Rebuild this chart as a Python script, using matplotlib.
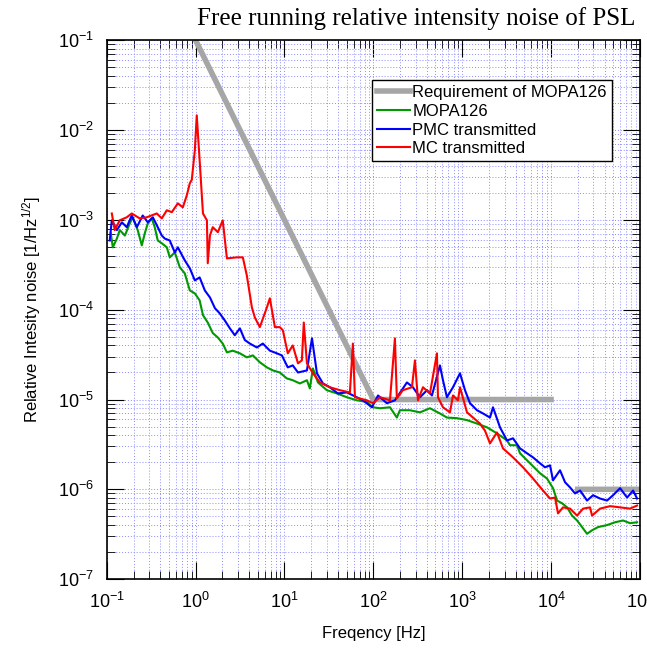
import numpy as np
import matplotlib
matplotlib.use('Agg')
import matplotlib.pyplot as plt

plt.rcParams['font.family'] = ['Liberation Sans', 'DejaVu Sans']
plt.rcParams['mathtext.fontset'] = 'custom'
plt.rcParams['mathtext.rm'] = 'Liberation Sans'
plt.rcParams['mathtext.it'] = 'Liberation Sans:italic'

# Requirement of MOPA126 (NaN splits the two flat parts)
req_f = [1.0, 100.0, 1e4, np.nan, 2e4, 1e5]
req_v = [1e-1, 1e-5, 1e-5, np.nan, 1e-6, 1e-6]

# MOPA126
mopa_f = [0.111, 0.117, 0.130, 0.140, 0.160, 0.182, 0.196, 0.223, 0.248, 0.268, 0.290,
          0.321, 0.347, 0.375, 0.416, 0.474, 0.512, 0.583, 0.664, 0.755, 0.861, 0.98,
          1.11, 1.21, 1.37, 1.56, 1.78, 2.02, 2.25, 2.62, 3.15, 3.77, 4.41, 5.28, 6.34,
          7.40, 8.87, 10.6, 12.4, 14.9, 17.9, 19.3, 20.9, 23.8, 30.0, 38.9, 50.5, 65.3,
          84.7, 98.9, 119, 154, 184, 199, 258, 335, 434, 562, 674, 874, 1133, 1468,
          1903, 2465, 3196, 3453, 4140, 4476, 5800, 7516, 9010, 10530, 11690, 13300,
          15150, 17250, 19640, 22360, 25430, 28950, 33810, 42730, 52570, 64710, 77580,
          93020]
mopa_v = [7.1e-4, 4.95e-4, 6.2e-4, 7.7e-4, 6.7e-4, 9.2e-4, 1.07e-3, 7.7e-4, 5.2e-4, 7.1e-4,
          9.2e-4, 1.04e-3, 8.3e-4, 5.9e-4, 5.5e-4, 4.95e-4, 3.83e-4, 4.35e-4, 2.97e-4,
          2.54e-4, 1.64e-4, 1.52e-4, 1.27e-4, 8.7e-5, 7.2e-5, 5.5e-5, 4.9e-5, 4.2e-5,
          3.35e-5, 3.5e-5, 3.27e-5, 2.95e-5, 3.1e-5, 2.6e-5, 2.28e-5, 2.11e-5, 2.0e-5,
          1.72e-5, 1.64e-5, 1.51e-5, 1.64e-5, 1.33e-5, 2.22e-5, 1.55e-5, 1.27e-5, 1.17e-5,
          1.06e-5, 9.8e-6, 9.4e-6, 8.2e-6, 8.0e-6, 8.2e-6, 6.3e-6, 7.6e-6, 7.6e-6, 7.2e-6,
          8.0e-6, 7.0e-6, 6.3e-6, 6.2e-6, 5.9e-6, 5.4e-6, 4.9e-6, 4.2e-6, 3.5e-6, 3.1e-6,
          3.1e-6, 2.52e-6, 1.95e-6, 1.51e-6, 1.32e-6, 1.03e-6, 7.5e-7, 7.0e-7, 6.3e-7,
          5.1e-7, 4.5e-7, 3.8e-7, 3.2e-7, 3.5e-7, 3.8e-7, 4.0e-7, 4.3e-7, 4.5e-7, 4.2e-7,
          4.3e-7]

# PMC transmitted
pmc_f = [0.108, 0.114, 0.130, 0.148, 0.168, 0.191, 0.218, 0.254, 0.290, 0.330, 0.375,
         0.416, 0.450, 0.512, 0.583, 0.631, 0.755, 0.861, 0.98, 1.11, 1.27, 1.45, 1.65,
         1.87, 2.13, 2.43, 2.76, 3.15, 3.58, 4.08, 4.89, 5.71, 6.85, 8.21, 9.35, 10.9,
         12.4, 14.2, 17.9, 20.4, 23.2, 27.1, 32.4, 39.9, 50.5, 76.4, 96.5, 113, 142, 175,
         239, 279, 335, 402, 457, 562, 608, 674, 788, 945, 1076, 1225, 1468, 1714, 2056,
         2222, 2665, 3196, 3733, 4476, 5366, 6269, 7516, 8556, 9743, 10530, 12620, 14380,
         16380, 18640, 21240, 25430, 29700, 35620, 42730, 49890, 59880, 71780, 83830,
         93020]
pmc_v = [5.9e-4, 9.9e-4, 7.7e-4, 9.4e-4, 8.3e-4, 1.12e-3, 8.3e-4, 1.12e-3, 9.4e-4, 1.07e-3,
         8.3e-4, 6.7e-4, 6.2e-4, 5.9e-4, 4.35e-4, 4.95e-4, 3.55e-4, 2.89e-4, 2.12e-4,
         2.29e-4, 1.64e-4, 1.37e-4, 1.04e-4, 9.1e-5, 7.6e-5, 6.2e-5, 5.2e-5, 6.2e-5, 4.6e-5,
         4.2e-5, 3.8e-5, 4.2e-5, 3.5e-5, 3.27e-5, 3.1e-5, 2.28e-5, 2.4e-5, 2.0e-5, 2.11e-5,
         4.8e-5, 1.96e-5, 1.51e-5, 1.37e-5, 1.17e-5, 1.2e-5, 9.8e-6, 8.2e-6, 1.11e-5,
         9.1e-6, 9.8e-6, 1.55e-5, 1.37e-5, 1.06e-5, 1.27e-5, 1.11e-5, 2.4e-5, 1.64e-5,
         1.06e-5, 1.37e-5, 1.96e-5, 1.27e-5, 9.1e-6, 7.6e-6, 7.0e-6, 6.3e-6, 8.2e-6, 4.9e-6,
         3.5e-6, 3.7e-6, 2.86e-6, 2.52e-6, 2.27e-6, 1.95e-6, 1.76e-6, 1.85e-6, 1.26e-6,
         1.63e-6, 1.2e-6, 1.05e-6, 9.0e-7, 9.7e-7, 7.5e-7, 8.6e-7, 7.9e-7, 7.5e-7, 8.6e-7,
         1.03e-6, 8.1e-7, 9.7e-7, 7.9e-7]

# MC transmitted
mc_f = [0.114, 0.123, 0.140, 0.168, 0.191, 0.235, 0.282, 0.366, 0.416, 0.474, 0.540,
        0.631, 0.718, 0.796, 0.861, 0.906, 0.98, 1.03, 1.11, 1.21, 1.34, 1.37, 1.45, 1.56,
        1.78, 2.02, 2.25, 2.91, 3.40, 3.77, 4.30, 4.64, 5.28, 6.34, 6.85, 7.80, 8.87, 9.59,
        10.9, 12.4, 14.2, 15.7, 16.5, 17.9, 20.9, 25.1, 32.4, 42.1, 54.5, 58.9, 62.1, 84.7,
        98.9, 119, 154, 175, 184, 215, 272, 294, 318, 362, 434, 520, 534, 608, 729, 788,
        897, 945, 1133, 1324, 1585, 1806, 2056, 2465, 2879, 3733, 4838, 6269, 8125, 9743,
        11090, 11990, 13650, 16380, 19640, 22940, 27480, 28950, 35620, 46160, 59880, 77580,
        93020]
mc_v = [1.18e-3, 7.7e-4, 9.9e-4, 1.07e-3, 1.18e-3, 1.04e-3, 1.07e-3, 1.18e-3, 1.04e-3,
        1.28e-3, 1.22e-3, 1.53e-3, 1.38e-3, 1.88e-3, 2.56e-3, 2.8e-3, 5.96e-3, 1.46e-2,
        4.6e-3, 1.18e-3, 9.9e-4, 3.29e-4, 6.7e-4, 8.3e-4, 7.3e-4, 9.9e-4, 3.73e-4, 3.83e-4,
        3.83e-4, 2.41e-4, 1.06e-4, 8.2e-5, 6.4e-5, 1.06e-4, 1.34e-4, 6.4e-5, 6.4e-5, 5.9e-5,
        3.27e-5, 4.0e-5, 2.53e-5, 2.73e-5, 7.2e-5, 2.53e-5, 1.96e-5, 1.55e-5, 1.37e-5,
        1.27e-5, 1.2e-5, 4.2e-5, 1.06e-5, 9.8e-6, 9.1e-6, 1.06e-5, 9.8e-6, 4.8e-5, 1.03e-5,
        1.27e-5, 1.37e-5, 2.73e-5, 9.8e-6, 1.37e-5, 1.17e-5, 3.27e-5, 1.06e-5, 8.2e-6,
        7.2e-6, 1.11e-5, 9.8e-6, 1.37e-5, 7.2e-6, 6.3e-6, 5.4e-6, 4.5e-6, 3.25e-6, 4.3e-6,
        2.86e-6, 2.27e-6, 1.76e-6, 1.32e-6, 9.7e-7, 7.9e-7, 8.1e-7, 5.4e-7, 6.3e-7, 6.1e-7,
        5.1e-7, 6.1e-7, 6.3e-7, 5.1e-7, 6.1e-7, 6.5e-7, 6.3e-7, 6.1e-7, 6.6e-7]

fig = plt.figure(figsize=(6.47, 6.5), dpi=100)
ax = fig.add_axes([0.165, 0.109, 0.824, 0.829])

ax.loglog(req_f, req_v, color='#a6a6a6', lw=4, label='Requirement of MOPA126')
ax.loglog(mopa_f, mopa_v, color='#009900', lw=1.5, label='MOPA126')
ax.loglog(pmc_f, pmc_v, color='#0000ff', lw=1.5, label='PMC transmitted')
ax.loglog(mc_f, mc_v, color='#ff0000', lw=1.5, label='MC transmitted')

ax.set_xlim(1e-1, 1e5)
ax.set_ylim(1e-7, 1e-1)
ax.grid(True, which='both', color='#8c8cff', linestyle=(0, (1, 2)), linewidth=0.7)
ax.tick_params(which='both', direction='in', top=True, right=True, labelsize=13)
ax.tick_params(which='major', length=12, pad=9)
ax.tick_params(which='minor', length=6)
for s in ax.spines.values():
    s.set_linewidth(1.2)

ax.set_xlabel('Freqency [Hz]', fontsize=12, labelpad=10)
ax.set_ylabel('Relative Intesity noise [1/Hz$^{1/2}$]', fontsize=12, labelpad=11)
fig.text(0.643, 0.972, 'Free running relative intensity noise of PSL',
         family='Liberation Serif', fontsize=18, ha='center', va='center')

leg = ax.legend(loc='upper right', bbox_to_anchor=(0.947, 0.926), fontsize=12,
                fancybox=False, framealpha=1, edgecolor='black', handlelength=2.0,
                borderpad=0.3, labelspacing=0.22, handletextpad=0.1, borderaxespad=0)
leg.get_frame().set_linewidth(1.0)

fig.savefig('out.png', dpi=100)
